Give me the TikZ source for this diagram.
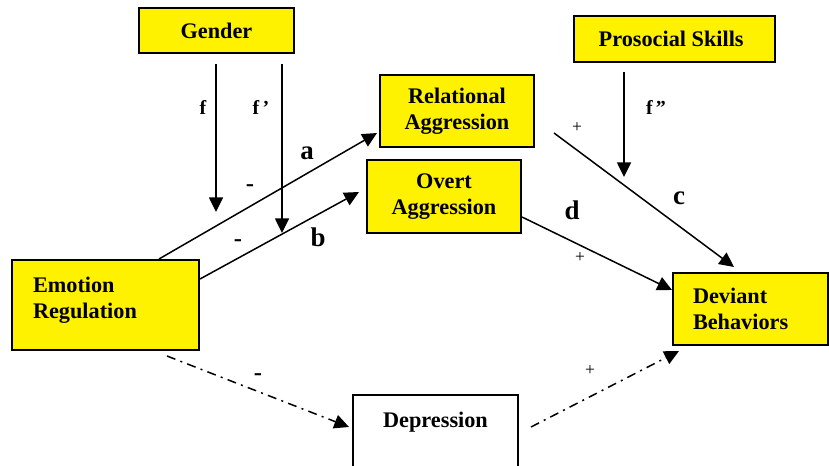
\documentclass[tikz,border=0pt]{standalone}
\usepackage{fontspec}
\setmainfont{Liberation Serif}
\usetikzlibrary{arrows.meta, calc}

\begin{document}
\begin{tikzpicture}[x = 0.3mm, y = -0.3mm,
        box/.style = {draw, line width = 0.6mm, inner sep = 0pt,
            font = \bfseries\fontsize{19}{22.5}\selectfont},
        yellowbox/.style = {box, fill = yellow},
        path/.style = {-{Triangle[length = 4.4mm, width = 4.2mm]}, line width = 0.45mm},
        dashdot/.style = {path, dash pattern = on 2.7mm off 1.6mm on 0.6mm off 1.6mm},
        letter/.style = {font = \bfseries\fontsize{23}{23}\selectfont},
        fletter/.style = {font = \bfseries\fontsize{17}{17}\selectfont},
        minus/.style = {font = \bfseries\fontsize{21}{21}\selectfont},
        plus/.style = {font = \fontsize{15}{15}\selectfont}]
    \useasboundingbox (0, 0) rectangle (829, 465);
    % Boxes
    \node [yellowbox, align = center, minimum width = 46.5mm, minimum height = 13.5mm]
        (gen) at (216.5, 30.5) {Gender};
    \node [yellowbox, align = center, minimum width = 60.3mm, minimum height = 13.8mm]
        (pro) at (674.5, 39) {Prosocial Skills\hspace{2mm}};
    \node [yellowbox, align = center, minimum width = 46.2mm, minimum height = 21.6mm]
        (rel) at (457, 111) {Relational\\Aggression};
    \node [yellowbox, align = center, minimum width = 46.2mm, minimum height = 21.9mm]
        (ovt) at (444, 196.5) {Overt\\Aggression};
    \node [yellowbox, align = left, inner xsep = 6.3mm, text width = 43.5mm, minimum height = 27mm]
        (emo) at (105.5, 305) {Emotion\\Regulation\rule[-4.5mm]{0pt}{1mm}};
    \node [yellowbox, align = left, inner xsep = 6mm, text width = 34.5mm, minimum height = 21.6mm]
        (dev) at (750.5, 309) {Deviant\\Behaviors};
    \node [box, fill = white, anchor = north, minimum width = 49.5mm, text height = 9.8mm, text depth = 16mm]
        (dep) at (435.5, 394) {Depression};
    % Ends of the moderating arrows
    \coordinate (fEnd) at (216, 212);
    \coordinate (f1End) at (282, 233);
    \coordinate (f2End) at (624, 177);
    % Paths
    \draw [path] ($(emo.north west) + (148, 0)$) -- ($(rel.south west) + (-2, -15)$);
    \draw [path] ($(emo.north east) + (0, 20)$) -- ($(ovt.west) + (-7, -4.5)$);
    \draw [path] ($(rel.east) + (19, 22)$) -- ($(dev.north west) + (62, -5)$);
    \draw [path] ($(ovt.east) + (0, 20.5)$) -- ($(dev.west) + (0, -19)$);
    \draw [path] ($(gen.south) + (-0.5, 10)$) -- (fEnd);
    \draw [path] ($(gen.south) + (65.5, 10)$) -- (f1End);
    \draw [path] ($(pro.south) + (-50.5, 9)$) -- (f2End);
    \draw [dashdot] ($(emo.south) + (61.5, 5)$) -- ($(dep.north west) + (-3, 33)$);
    \draw [dashdot] ($(dep.north east) + (12, 33)$) -- ($(dev.south west) + (7, 5)$);
    % Labels
    \node [letter] (la) at (307, 153) {a};
    \node [letter] (lb) at (318, 237) {b};
    \node [letter] (lc) at (679, 198) {c};
    \node [letter] (ld) at (572, 210) {d};
    \node [fletter] (lf) at (203, 107) {f};
    \node [fletter] (lf1) at (261, 107) {f\,’};
    \node [fletter] (lf2) at (656, 107) {f\,”};
    \foreach \name/\x/\y in {mA/250/188, mB/238/243, mDep/258/377}
        \node [minus] (\name) at (\x, \y) {-};
    \foreach \name/\x/\y in {pC/577/128, pD/580/258, pDep/590/371}
        \node [plus] (\name) at (\x, \y) {+};
\end{tikzpicture}
\end{document}
